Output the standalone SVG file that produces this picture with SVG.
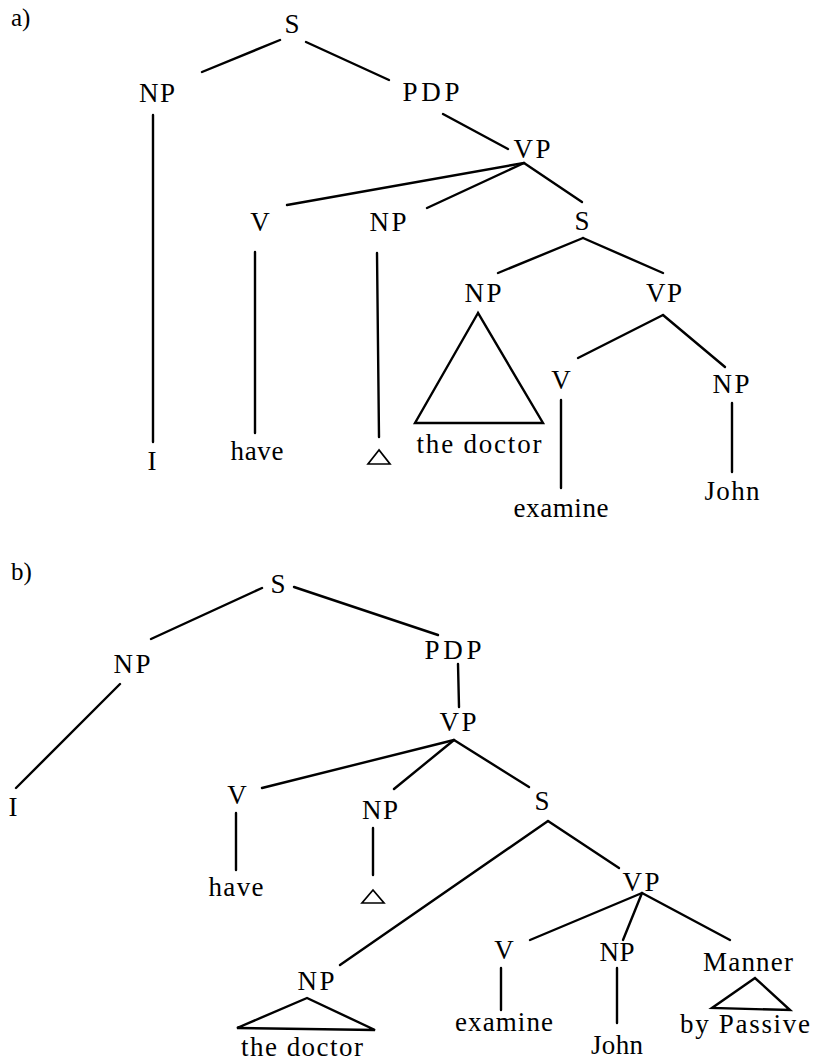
<svg xmlns="http://www.w3.org/2000/svg" width="825" height="1062" viewBox="0 0 825 1062">
<style>
text{font-family:"Liberation Serif","Times New Roman",serif;font-size:27px;fill:#000;text-anchor:middle}
.lbl{text-anchor:start;font-size:25px}
.e line{stroke:#000;stroke-width:2.4;stroke-linecap:round}
.tri{fill:none;stroke:#000;stroke-width:2.4;stroke-linejoin:miter}
.sm{fill:none;stroke:#000;stroke-width:1.7}
</style>
<rect width="825" height="1062" fill="#fff"/>
<text class="lbl" x="11" y="26">a)</text>
<text class="lbl" x="11" y="580">b)</text>
<g id="a_S"><text x="292" y="33">S</text></g>
<g id="a_NP"><text x="157" y="102" textLength="36">NP</text></g>
<g id="a_PDP"><text x="431" y="101" textLength="57">PDP</text></g>
<g id="a_VP"><text x="532" y="158" textLength="37">VP</text></g>
<g id="a_V"><text x="260" y="231">V</text></g>
<g id="a_NP2"><text x="388" y="231" textLength="37">NP</text></g>
<g id="a_S2"><text x="582" y="230">S</text></g>
<g id="a_NP3"><text x="483" y="302" textLength="37">NP</text><polygon class="tri" points="478,313 415,423 543,423"/></g>
<g id="a_VP2"><text x="664" y="302" textLength="36">VP</text></g>
<g id="a_V2"><text x="561" y="389">V</text></g>
<g id="a_NP4"><text x="731" y="393" textLength="37">NP</text></g>
<g id="a_I"><text x="152" y="470">I</text></g>
<g id="a_have"><text x="257" y="460" textLength="53">have</text></g>
<g id="a_empty"><polygon class="sm" points="379,450 368,464 390,464"/></g>
<g id="a_doctor"><text x="479" y="453" textLength="125">the doctor</text></g>
<g id="a_examine"><text x="561" y="517" textLength="95">examine</text></g>
<g id="a_John"><text x="732" y="500" textLength="55">John</text></g>

<g id="b_S"><text x="278" y="593">S</text></g>
<g id="b_NP"><text x="132" y="673" textLength="37">NP</text></g>
<g id="b_PDP"><text x="453" y="659" textLength="57">PDP</text></g>
<g id="b_VP"><text x="458" y="731" textLength="37">VP</text></g>
<g id="b_V"><text x="237" y="804">V</text></g>
<g id="b_NP2"><text x="380" y="819" textLength="36">NP</text></g>
<g id="b_S2"><text x="542" y="810">S</text></g>
<g id="b_I"><text x="13" y="816">I</text></g>
<g id="b_have"><text x="236" y="896" textLength="55">have</text></g>
<g id="b_empty"><polygon class="sm" points="373,890 362,903 384,903"/></g>
<g id="b_NP3"><text x="316" y="990" textLength="37">NP</text><polygon class="tri" points="307,998 237,1028 375,1030"/></g>
<g id="b_doctor"><text x="302" y="1056" textLength="122">the doctor</text></g>
<g id="b_VP2"><text x="641" y="891" textLength="37">VP</text></g>
<g id="b_V2"><text x="504" y="959">V</text></g>
<g id="b_NP4"><text x="617" y="961" textLength="35">NP</text></g>
<g id="b_Manner"><text x="748" y="971" textLength="90">Manner</text><polygon class="tri" points="755,978 712,1008 790,1010"/></g>
<g id="b_examine"><text x="504" y="1031" textLength="98">examine</text></g>
<g id="b_John"><text x="617" y="1054" textLength="52">John</text></g>
<g id="b_passive"><text x="745" y="1033" textLength="130">by Passive</text></g>

<g id="edges" class="e">
<line x1="202" y1="72" x2="280" y2="40"/>
<line x1="306" y1="42" x2="389" y2="80"/>
<line x1="153" y1="115" x2="153" y2="442"/>
<line x1="443" y1="114" x2="508" y2="149"/>
<line x1="524" y1="163" x2="287" y2="205"/>
<line x1="524" y1="163" x2="427" y2="208"/>
<line x1="524" y1="163" x2="582" y2="202"/>
<line x1="255" y1="252" x2="255" y2="433"/>
<line x1="377" y1="253" x2="379" y2="437"/>
<line x1="583" y1="238" x2="498" y2="273"/>
<line x1="583" y1="238" x2="663" y2="273"/>
<line x1="663" y1="315" x2="578" y2="358"/>
<line x1="663" y1="315" x2="725" y2="367"/>
<line x1="561" y1="400" x2="561" y2="488"/>
<line x1="732" y1="403" x2="732" y2="472"/>

<line x1="262" y1="588" x2="151" y2="639"/>
<line x1="294" y1="587" x2="438" y2="635"/>
<line x1="120" y1="684" x2="16" y2="788"/>
<line x1="458" y1="664" x2="459" y2="707"/>
<line x1="454" y1="740" x2="262" y2="788"/>
<line x1="454" y1="740" x2="394" y2="789"/>
<line x1="454" y1="740" x2="529" y2="787"/>
<line x1="236" y1="813" x2="236" y2="870"/>
<line x1="373" y1="828" x2="373" y2="875"/>
<line x1="548" y1="821" x2="340" y2="965"/>
<line x1="548" y1="821" x2="619" y2="868"/>
<line x1="642" y1="893" x2="530" y2="940"/>
<line x1="642" y1="893" x2="623" y2="940"/>
<line x1="642" y1="893" x2="730" y2="940"/>
<line x1="501" y1="968" x2="501" y2="1010"/>
<line x1="617" y1="968" x2="617" y2="1023"/>
</g>
</svg>
